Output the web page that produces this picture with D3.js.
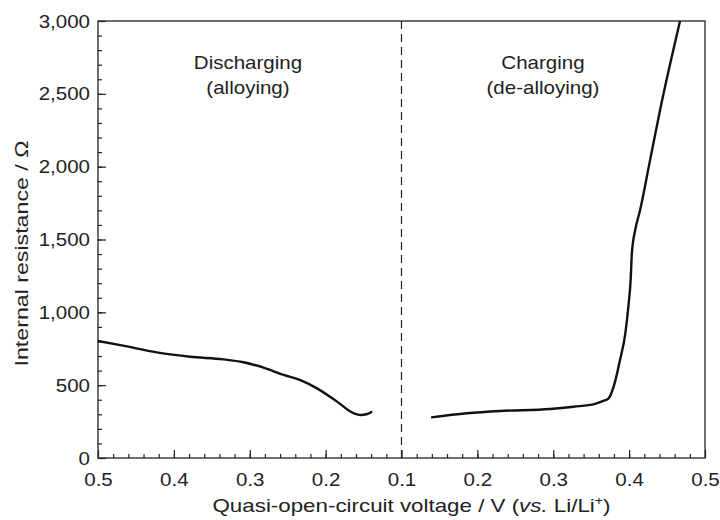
<!DOCTYPE html>
<html>
<head>
<meta charset="utf-8">
<script src="https://cdn.jsdelivr.net/npm/d3@7"></script>
<style>
  body { margin: 0; background: #fff; }
  text { font-family: "Liberation Sans", Arial, sans-serif; fill: #222; }
</style>
</head>
<body>
<svg id="chart" width="720" height="520"></svg>
<script>
// discharging branch (voltage falls from 0.5 V towards 0.1 V)
const dischargeV = [0.500, 0.467, 0.4225, 0.3785, 0.3346, 0.3082, 0.2818, 0.2554, 0.2333, 0.2113, 0.1849, 0.1629, 0.154, 0.145, 0.1387]
const dischargeR = [803, 771, 725, 695, 677, 657, 620, 570, 535, 478, 387, 307, 295, 302, 320]
// charging branch (voltage rises from 0.1 V towards 0.5 V)
const chargeV = [0.139, 0.186, 0.230, 0.296, 0.327, 0.355, 0.366, 0.373, 0.382, 0.388, 0.395, 0.399, 0.402, 0.4036, 0.408, 0.4145, 0.4276, 0.4408, 0.4671]
const chargeR = [279, 307, 323, 336, 352, 372, 392, 410, 535, 673, 856, 1039, 1222, 1405, 1565, 1702, 2045, 2389, 3000]

const leftTicks = [0.5, 0.4, 0.3, 0.2]
const rightTicks = [0.1, 0.2, 0.3, 0.4, 0.5]
const yTicks = [0, 500, 1000, 1500, 2000, 2500, 3000]

const margin = {top: 21, right: 15, bottom: 62, left: 98}
const svgWidth = 720, svgHeight = 520
const innerWidth = svgWidth - margin.left - margin.right
const innerHeight = svgHeight - margin.top - margin.bottom
const half = innerWidth / 2
const fs = '19px'
const stretch = 1.08   // source lettering is slightly wide

// widen a text element's glyphs without a transform
function widen(sel, k){
    sel.each(function(){
        const w = this.getComputedTextLength()
        d3.select(this).attr('textLength', w * k).attr('lengthAdjust', 'spacingAndGlyphs')
    })
}

const svg = d3.select('#chart')
const g = svg.append('g').attr('transform', `translate(${margin.left},${margin.top})`)

const xLeft = d3.scaleLinear().domain([0.5, 0.1]).range([0, half])
const xRight = d3.scaleLinear().domain([0.1, 0.5]).range([half, innerWidth])
const yScale = d3.scaleLinear().domain([0, 3000]).range([innerHeight, 0])

// minor ticks
g.append('g')
    .attr('transform', `translate(0,${innerHeight})`)
    .call(d3.axisBottom(xLeft).tickValues(d3.range(0.48, 0.1, -0.02)).tickSize(-4).tickFormat(''))
g.append('g')
    .attr('transform', `translate(0,${innerHeight})`)
    .call(d3.axisBottom(xRight).tickValues(d3.range(0.12, 0.5, 0.02)).tickSize(-4).tickFormat(''))
g.append('g')
    .call(d3.axisLeft(yScale).tickValues(d3.range(100, 3000, 100)).tickSize(-4).tickFormat(''))
g.selectAll('.tick text').remove()

// major ticks
const fmtV = d3.format('.1f')
const axL = g.append('g')
    .attr('transform', `translate(0,${innerHeight})`)
    .call(d3.axisBottom(xLeft).tickValues(leftTicks).tickSize(-8).tickPadding(15).tickFormat(fmtV))
const axR = g.append('g')
    .attr('transform', `translate(0,${innerHeight})`)
    .call(d3.axisBottom(xRight).tickValues(rightTicks).tickSize(-8).tickPadding(15).tickFormat(fmtV))
const axY = g.append('g')
    .call(d3.axisLeft(yScale).tickValues(yTicks).tickSize(-8).tickPadding(8).tickFormat(d3.format(',')))

g.selectAll('.domain').remove()
g.selectAll('.tick line').attr('stroke', '#222').attr('stroke-width', 1.2)

g.selectAll('.tick text').style('font-size', fs)
widen(axL.selectAll('text'), stretch)
widen(axR.selectAll('text'), stretch)
widen(axY.selectAll('text'), stretch)

// frame
g.append('rect')
    .attr('width', innerWidth).attr('height', innerHeight)
    .attr('fill', 'none').attr('stroke', '#222').attr('stroke-width', 1.3)

// dashed divider at 0.1 V
g.append('line')
    .attr('x1', xRight(0.1)).attr('x2', xRight(0.1))
    .attr('y1', 0).attr('y2', innerHeight)
    .attr('stroke', '#222').attr('stroke-width', 1.2)
    .attr('stroke-dasharray', '8,5')

const disData = dischargeV.map((v, i) => ({v: v, r: dischargeR[i]}))
const chData = chargeV.map((v, i) => ({v: v, r: chargeR[i]}))

g.append('path')
    .datum(disData)
    .attr('fill', 'none').attr('stroke', '#111').attr('stroke-width', 2.4)
    .attr('d', d3.line().x(d => xLeft(d.v)).y(d => yScale(d.r)).curve(d3.curveMonotoneX))

g.append('path')
    .datum(chData)
    .attr('fill', 'none').attr('stroke', '#111').attr('stroke-width', 2.4)
    .attr('d', d3.line().x(d => xRight(d.v)).y(d => yScale(d.r)).curve(d3.curveMonotoneX))

// region labels
function label(x, y, lines){
    lines.forEach((s, i) => {
        svg.append('text')
            .attr('x', x).attr('y', y + i * 25)
            .style('font-size', fs)
            .style('text-anchor', 'middle')
            .text(s)
            .call(widen, stretch)
    })
}
label(248, 69, ['Discharging', '(alloying)'])
label(543, 69, ['Charging', '(de-alloying)'])

// axis titles
const xt = svg.append('text')
    .attr('x', margin.left + half + 10).attr('y', 512)
    .style('font-size', fs)
    .style('text-anchor', 'middle')
xt.append('tspan').text('Quasi-open-circuit voltage / V (')
xt.append('tspan').style('font-style', 'italic').text('vs.')
xt.append('tspan').text(' Li/Li')
xt.append('tspan').attr('dy', -7).style('font-size', '12px').text('+')
xt.append('tspan').attr('dy', 7).text(')')
xt.attr('textLength', 398).attr('lengthAdjust', 'spacingAndGlyphs')

svg.append('text')
    .attr('transform', `translate(28,${margin.top + innerHeight / 2 + 14}) rotate(-90)`)
    .style('font-size', fs)
    .style('text-anchor', 'middle')
    .attr('textLength', 226).attr('lengthAdjust', 'spacingAndGlyphs')
    .text('Internal resistance / Ω')
</script>
</body>
</html>
